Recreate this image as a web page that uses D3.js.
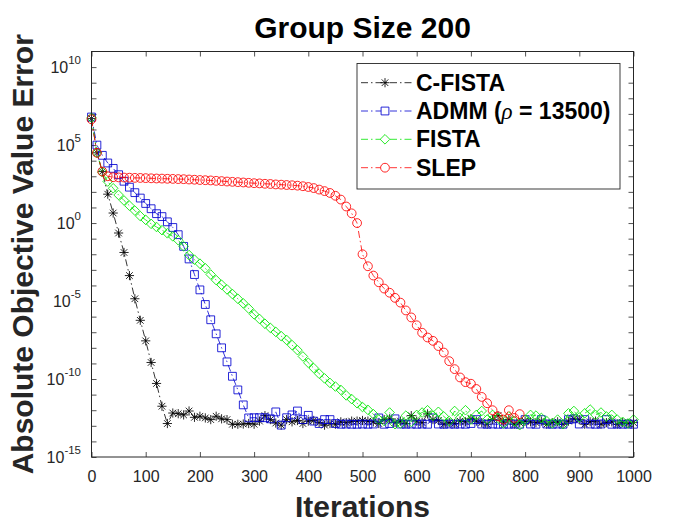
<!DOCTYPE html>
<html><head><meta charset="utf-8">
<script src="https://cdn.jsdelivr.net/npm/d3@7"></script>
<style>
body{margin:0;background:#fff}
svg{display:block}
text{font-family:"Liberation Sans",Arial,Helvetica,sans-serif}
</style>
</head><body>
<svg id="chart" width="700" height="525"></svg>
<script>
// ---------------- data ----------------
const iterations = [0,10,20,30,40,50,60,70,80,90,100,110,120,130,140,150,160,170,180,190,200,
210,220,230,240,250,260,270,280,290,300,310,320,330,340,350,360,370,380,390,400,
410,420,430,440,450,460,470,480,490,500,510,520,530,540,550,560,570,580,590,600,
610,620,630,640,650,660,670,680,690,700,710,720,730,740,750,760,770,780,790,800,
810,820,830,840,850,860,870,880,890,900,910,920,930,940,950,960,970,980,990,1000];

const cfista = [5.0e6,3.2e4,2.0e3,71,4.4,0.23,1.3e-2,4.3e-4,1.4e-5,5.8e-7,2.8e-8,
1.15e-9,5.2e-11,1.8e-12,1.4e-13,6.6e-13,6.0e-13,5.0e-13,8.9e-13,3.5e-13,4.1e-13,
3.2e-13,2.5e-13,4.1e-13,2.8e-13,2.5e-13,1.26e-13,1.26e-13,1.3e-13,1.4e-13,1.26e-13,
2.0e-13,4.5e-13,2.5e-13,1.5e-13,1.1e-13,2.5e-13,1.8e-13,2.2e-13,1.4e-13,2.0e-13,
2.2e-13,1.6e-13,1.1e-13,1.4e-13,1.26e-13,1.8e-13,1.6e-13,2.0e-13,2.0e-13,2.2e-13,
2.0e-13,1.8e-13,1.4e-13,2.5e-13,2.8e-13,1.6e-13,2.0e-13,1.4e-13,4.5e-13,2.0e-13,
1.6e-13,5.8e-13,2.5e-13,2.2e-13,1.26e-13,1.6e-13,1.4e-13,2.0e-13,1.8e-13,2.8e-13,
2.0e-13,1.6e-13,1.26e-13,2.5e-13,4.5e-13,1.7e-13,2.5e-13,1.26e-13,1.6e-13,2.0e-13,
1.8e-13,1.6e-13,2.0e-13,1.26e-13,1.6e-13,1.8e-13,1.26e-13,2.0e-13,2.8e-13,2.5e-13,
1.26e-13,1.8e-13,2.0e-13,1.26e-13,1.6e-13,1.8e-13,1.26e-13,1.6e-13,1.4e-13,1.6e-13];

const admm = [6.3e6,1.0e5,2.2e4,7.1e3,3.2e3,1.26e3,480,200,89,40,18,
8.3,4.0,2.6,1.2,0.52,0.18,3.2e-2,5.0e-3,5.0e-4,5.2e-5,
6.0e-6,6.3e-7,7.9e-8,1.0e-8,1.26e-9,1.5e-10,2.0e-11,2.2e-12,3.2e-13,3.3e-13,
3.3e-13,3.3e-13,2.8e-13,7.8e-13,1.1e-13,3.3e-13,5.0e-13,8.9e-13,2.5e-13,4.7e-13,
2.0e-13,1.4e-13,2.5e-13,2.5e-13,1.4e-13,1.26e-13,1.3e-13,1.26e-13,1.26e-13,1.3e-13,
1.26e-13,1.3e-13,3.2e-13,1.26e-13,1.4e-13,2.8e-13,1.3e-13,1.26e-13,1.3e-13,1.26e-13,
1.3e-13,1.26e-13,3.2e-13,1.3e-13,1.26e-13,1.3e-13,1.26e-13,1.3e-13,1.26e-13,1.4e-13,
2.5e-13,1.3e-13,1.26e-13,1.3e-13,1.26e-13,1.3e-13,1.26e-13,1.3e-13,1.26e-13,2.5e-13,
1.3e-13,1.26e-13,2.5e-13,1.3e-13,1.26e-13,1.3e-13,1.26e-13,2.5e-13,2.8e-13,1.3e-13,
2.5e-13,1.3e-13,1.26e-13,1.3e-13,2.5e-13,1.26e-13,1.3e-13,1.26e-13,1.3e-13,1.26e-13];

const fista = [5.6e6,3.2e4,1.8e3,460,170,63,28,13,6.3,2.8,1.6,
0.89,0.56,0.35,0.22,0.14,7.9e-2,3.2e-2,8.9e-3,4.5e-3,2.5e-3,
1.26e-3,5.0e-4,2.2e-4,1.1e-4,5.6e-5,2.8e-5,1.4e-5,7.1e-6,3.3e-6,1.4e-6,
7.1e-7,3.5e-7,1.9e-7,1.05e-7,5.6e-8,3.2e-8,1.5e-8,7.1e-9,2.8e-9,1.1e-9,
5.0e-10,2.2e-10,1.1e-10,5.6e-11,3.3e-11,2.0e-11,8.9e-12,5.2e-12,2.8e-12,1.6e-12,
1.05e-12,5.6e-13,2.5e-13,2.0e-13,7.1e-13,1.26e-13,1.4e-13,4.5e-13,1.8e-13,5.0e-13,
7.1e-13,1.0e-12,4.5e-13,7.9e-13,4.0e-13,2.0e-13,8.9e-13,3.2e-13,1.0e-12,2.5e-13,
5.0e-13,8.9e-13,2.5e-13,5.0e-13,3.2e-13,1.4e-13,4.0e-13,2.0e-13,1.1e-13,2.5e-13,
5.0e-13,4.5e-13,3.2e-13,2.0e-13,1.4e-13,2.5e-13,1.26e-13,6.3e-13,8.9e-13,3.5e-13,
6.3e-13,1.1e-12,5.0e-13,7.1e-13,4.0e-13,5.0e-13,2.5e-13,1.8e-13,1.4e-13,2.5e-13];

const slep = [4.5e6,3.2e4,2.0e3,1.0e3,870,850,830,810,790,780,760,
740,720,710,690,680,660,650,620,600,575,
560,540,510,490,460,440,420,400,380,360,
350,330,320,300,290,275,265,250,230,205,
175,140,112,85,56,32,11.5,4.2,1.0,1.0e-2,
1.7e-3,4.3e-4,1.6e-4,6.3e-5,3.4e-5,1.6e-5,7.9e-6,2.5e-6,8.9e-7,2.8e-7,
9.3e-8,4.6e-8,2.8e-8,1.3e-8,5.0e-9,1.4e-9,4.3e-10,1.26e-10,6.3e-11,5.0e-11,
2.3e-11,7.1e-12,2.8e-12,1.0e-12,4.0e-13,2.5e-13,1.0e-12,3.2e-13,5.6e-13];

const seriesNames = ["C-FISTA", "ADMM", "FISTA", "SLEP"];
const xTickValues = [0,100,200,300,400,500,600,700,800,900,1000];
const yTickExponents = [-15,-14,-13,-12,-11,-10,-9,-8,-7,-6,-5,-4,-3,-2,-1,0,1,2,3,4,5,6,7,8,9,10];
const yLabelExponents = ["-15","-10","-5","0","5","10"];
const titleText = "Group Size 200";
const xLabelText = "Iterations";
const yLabelText = "Absolute Objective Value Error";

// ---------------- layout ----------------
const svg = d3.select("#chart");
const M = {l: 91.5, r: 633.5, t: 51.5, b: 457};
const axisColor = "#262626";
const x = d3.scaleLinear().domain([0, 1000]).range([M.l, M.r]);
const y = d3.scaleLog().domain([1e-15, 1e11]).range([M.b, M.t]);
const yTickValues = yTickExponents.map(e => Math.pow(10, e));

svg.append("rect").attr("width",700).attr("height",525).attr("fill","#fff");

function styleAxis(g){
  g.select(".domain").remove();
  g.selectAll(".tick line").attr("stroke", axisColor).attr("stroke-width", 0.8);
  g.selectAll(".tick text").attr("fill", axisColor).attr("font-size", 16)
    .attr("font-family", '"Liberation Sans",Arial,sans-serif');
}

svg.append("g").attr("transform", `translate(0,${M.b})`)
  .call(d3.axisBottom(x).tickValues(xTickValues).tickSizeInner(-5).tickSizeOuter(0).tickPadding(13.5).tickFormat(d => String(d)))
  .call(styleAxis);
svg.append("g").attr("transform", `translate(0,${M.t})`)
  .call(d3.axisTop(x).tickValues(xTickValues).tickSizeInner(-5).tickSizeOuter(0).tickFormat(() => ""))
  .call(styleAxis);
svg.append("g").attr("transform", `translate(${M.l},0)`)
  .call(d3.axisLeft(y).tickValues(yTickValues).tickSizeInner(-5).tickSizeOuter(0).tickFormat(() => ""))
  .call(styleAxis);
svg.append("g").attr("transform", `translate(${M.r},0)`)
  .call(d3.axisRight(y).tickValues(yTickValues).tickSizeInner(-5).tickSizeOuter(0).tickFormat(() => ""))
  .call(styleAxis);

// y tick labels with superscripts
const yl = svg.append("g");
yLabelExponents.forEach(e => {
  const t = yl.append("text")
    .attr("x", M.l - 10.5)
    .attr("y", y(Math.pow(10, +e)) + 5.7)
    .attr("text-anchor", "end")
    .attr("fill", axisColor)
    .attr("font-size", 16);
  t.append("tspan").text("10");
  t.append("tspan").attr("font-size", 11.5).attr("dy", -8.5).text(e);
});

// ---------------- series ----------------
const colors = ["#000000", "#0000d0", "#00e600", "#ff0000"];
const dash = "7,3,1.5,3";

function markerPath(kind){
  const p = d3.path();
  if (kind === "star"){
    const r = 4.6, d = r * 0.72;
    p.moveTo(-r,0); p.lineTo(r,0);
    p.moveTo(0,-r); p.lineTo(0,r);
    p.moveTo(-d,-d); p.lineTo(d,d);
    p.moveTo(-d,d); p.lineTo(d,-d);
  } else if (kind === "square"){
    const h = 3.9;
    p.rect(-h,-h,2*h,2*h);
  } else if (kind === "diamond"){
    const h = 4.8;
    p.moveTo(0,-h); p.lineTo(h,0); p.lineTo(0,h); p.lineTo(-h,0); p.closePath();
  } else {
    p.arc(0,0,4.4,0,2*Math.PI);
  }
  return p.toString();
}
const markerKinds = ["star","square","diamond","circle"];
const allSeries = [cfista, admm, fista, slep];

const line = d3.line().x(d => x(d.it)).y(d => y(d.v));

allSeries.forEach((vals, si) => {
  const data = vals.map((v, i) => ({it: iterations[i], v}));
  const g = svg.append("g");
  g.append("path").datum(data).attr("d", line)
    .attr("fill","none").attr("stroke", colors[si]).attr("stroke-width", 0.8)
    .attr("stroke-dasharray", dash);
  const mp = markerPath(markerKinds[si]);
  g.selectAll("path.m").data(data).enter().append("path").attr("class","m")
    .attr("d", mp)
    .attr("transform", d => `translate(${x(d.it)},${y(d.v)})`)
    .attr("fill","none").attr("stroke", colors[si]).attr("stroke-width", 0.85);
});

// axes box
svg.append("rect").attr("x", M.l).attr("y", M.t)
  .attr("width", M.r - M.l).attr("height", M.b - M.t)
  .attr("fill","none").attr("stroke", axisColor).attr("stroke-width", 1);

// ---------------- legend ----------------
const lg = svg.append("g");
lg.append("rect").attr("x", 357).attr("y", 63.5).attr("width", 263).attr("height", 125.5)
  .attr("fill","#fff").attr("stroke", axisColor).attr("stroke-width", 0.9);
const rowY = [82.7, 111, 139.3, 167.7];
seriesNames.forEach((name, i) => {
  const cy = rowY[i];
  lg.append("line").attr("x1", 361).attr("x2", 412).attr("y1", cy).attr("y2", cy)
    .attr("stroke", colors[i]).attr("stroke-width", 0.8).attr("stroke-dasharray", dash);
  lg.append("path").attr("d", markerPath(markerKinds[i]))
    .attr("transform", `translate(385,${cy})`)
    .attr("fill","#fff").attr("stroke", colors[i]).attr("stroke-width", 0.85);
  const t = lg.append("text").attr("x", 416).attr("y", cy + 8)
    .attr("font-size", 23).attr("font-weight", "bold").attr("fill", "#000");
  if (name === "ADMM"){
    t.append("tspan").text("ADMM (");
    t.append("tspan").attr("font-family", '"Liberation Serif","Times New Roman",serif')
      .attr("font-style","italic").attr("font-weight","normal").text("ρ");
    t.append("tspan").text(" = 13500)");
  } else {
    t.text(name);
  }
});

// ---------------- titles ----------------
svg.append("text").attr("x", (M.l + M.r) / 2).attr("y", 37.5)
  .attr("text-anchor","middle").attr("font-size", 30).attr("font-weight","bold")
  .attr("fill","#000").text(titleText);
svg.append("text").attr("x", (M.l + M.r) / 2).attr("y", 517)
  .attr("text-anchor","middle").attr("font-size", 30).attr("font-weight","bold")
  .attr("fill", axisColor).text(xLabelText);
svg.append("text").attr("transform", `translate(33,${(M.t + M.b) / 2}) rotate(-90)`)
  .attr("text-anchor","middle").attr("font-size", 30).attr("font-weight","bold")
  .attr("fill", axisColor).text(yLabelText);
</script>
</body></html>
